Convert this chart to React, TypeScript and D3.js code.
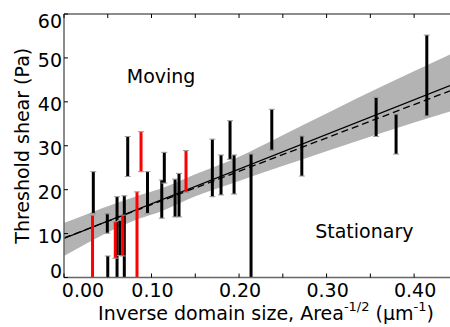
import React, { useEffect, useRef } from 'react';
import * as d3 from 'd3';

const width = 450;
const height = 327;
const margin = { top: 14, right: 0, bottom: 49.5, left: 64 };

// black error bars: x, upper end, lower end (Pa); negative lows run off the axis
const blackX = [0.0335, 0.0495, 0.05, 0.0606, 0.064, 0.0689, 0.0728, 0.0954, 0.1117, 0.1146, 0.1269, 0.1314, 0.1695, 0.1794, 0.1897, 0.1943, 0.2137, 0.2374, 0.2717, 0.3566, 0.3794, 0.4145];
const blackHi = [24.1, 14.5, 4.9, 18.4, 13.0, 18.6, 32.1, 24.1, 22.2, 28.5, 22.4, 23.7, 31.5, 27.9, 35.7, 27.9, 28.1, 38.3, 32.2, 41.0, 37.2, 55.2];
const blackLo = [14.6, 10.1, -3, -3, 5.0, -3, 23.0, 14.6, 13.5, 21.5, 13.8, 13.8, 18.4, 18.8, 26.9, 19.0, -3, 29.0, 23.1, 32.1, 28.1, 36.8];

// red error bars
const redX = [0.0326, 0.0586, 0.0671, 0.0834, 0.088, 0.1394];
const redHi = [14.2, 12.7, 14.2, 19.5, 33.2, 28.9];
const redLo = [-3, 4.4, 4.9, -3, 24.1, 19.4];

// confidence band
const bandX = [0.0, 0.087, 0.11, 0.15, 0.2, 0.247, 0.361, 0.441];
const bandLo = [4.9, 13.5, 15.0, 18.5, 22.0, 25.2, 32.8, 37.8];
const bandHi = [12.4, 18.8, 20.2, 23.5, 27.5, 32.1, 43.3, 50.8];

// fit lines
const fitX = [0, 0.441];
const solidY = [8.9, 43.7];
const dashedY = [9.0, 42.5];

const xTicks = [0, 0.05, 0.1, 0.15, 0.2, 0.25, 0.3, 0.35, 0.4];
const yTicks = [0, 10, 20, 30, 40, 50, 60];

const font = 'DejaVu Sans, sans-serif';

export default function App() {
  const ref = useRef<SVGSVGElement>(null);

  useEffect(() => {
    const svg = d3.select(ref.current);
    svg.selectAll('*').remove();

    const x = d3.scaleLinear().domain([0, 0.441]).range([margin.left, width - margin.right]);
    const y = d3.scaleLinear().domain([0, 60]).range([height - margin.bottom, margin.top]);

    svg
      .append('defs')
      .append('clipPath')
      .attr('id', 'plotclip')
      .append('rect')
      .attr('x', margin.left)
      .attr('y', margin.top)
      .attr('width', width - margin.left - margin.right)
      .attr('height', height - margin.top - margin.bottom);

    const plot = svg.append('g').attr('clip-path', 'url(#plotclip)');

    // band
    const band = bandX.map((d, i) => ({ x: d, lo: bandLo[i], hi: bandHi[i] }));
    const area = d3
      .area<{ x: number; lo: number; hi: number }>()
      .x(d => x(d.x))
      .y0(d => y(d.lo))
      .y1(d => y(d.hi))
      .curve(d3.curveMonotoneX);
    plot.append('path').datum(band).attr('d', area).attr('fill', '#b3b3b3');

    // fit lines
    const line = d3
      .line<number>()
      .x((d, i) => x(fitX[i]))
      .y(d => y(d));
    plot.append('path').datum(solidY).attr('d', line).attr('fill', 'none').attr('stroke', '#000').attr('stroke-width', 1.3);
    plot
      .append('path')
      .datum(dashedY)
      .attr('d', line)
      .attr('fill', 'none')
      .attr('stroke', '#000')
      .attr('stroke-width', 1.3)
      .attr('stroke-dasharray', '7,4');

    // error bars
    const drawBars = (xs: number[], his: number[], los: number[], color: string) => {
      xs.forEach((xv, i) => {
        const g = plot.append('g');
        g.append('line')
          .attr('x1', x(xv))
          .attr('x2', x(xv))
          .attr('y1', y(his[i]))
          .attr('y2', y(los[i]))
          .attr('stroke', color)
          .attr('stroke-width', 3);
        [his[i], los[i]].forEach(v => {
          g.append('line')
            .attr('x1', x(xv) - 3)
            .attr('x2', x(xv) + 3)
            .attr('y1', y(v))
            .attr('y2', y(v))
            .attr('stroke', '#999')
            .attr('stroke-width', 1);
        });
      });
    };
    drawBars(blackX, blackHi, blackLo, '#000');
    drawBars(redX, redHi, redLo, '#ff0000');

    // annotations
    svg
      .append('text')
      .attr('x', x(0.0717))
      .attr('y', y(44.3))
      .attr('font-family', font)
      .attr('font-size', 19)
      .text('Moving');
    svg
      .append('text')
      .attr('x', x(0.287))
      .attr('y', y(8.9))
      .attr('font-family', font)
      .attr('font-size', 19)
      .text('Stationary');

    // spines
    const spine = '#666';
    svg.append('line').attr('x1', margin.left).attr('x2', margin.left).attr('y1', y(0)).attr('y2', y(60)).attr('stroke', spine).attr('stroke-width', 1.5);
    svg.append('line').attr('x1', margin.left).attr('x2', width).attr('y1', y(60)).attr('y2', y(60)).attr('stroke', spine).attr('stroke-width', 1.5);
    svg.append('line').attr('x1', margin.left).attr('x2', width).attr('y1', y(0)).attr('y2', y(0)).attr('stroke', spine).attr('stroke-width', 1.5);

    // ticks
    xTicks.forEach(t => {
      svg.append('line').attr('x1', x(t)).attr('x2', x(t)).attr('y1', y(0)).attr('y2', y(0) - 4).attr('stroke', '#000');
      svg.append('line').attr('x1', x(t)).attr('x2', x(t)).attr('y1', y(60)).attr('y2', y(60) + 4).attr('stroke', '#000');
    });
    yTicks.forEach(t => {
      svg.append('line').attr('x1', margin.left).attr('x2', margin.left + 4).attr('y1', y(t)).attr('y2', y(t)).attr('stroke', '#000');
    });

    // tick labels
    svg
      .append('g')
      .selectAll('text')
      .data(xTicks.filter((d, i) => i % 2 === 0))
      .enter()
      .append('text')
      .attr('x', d => x(d) + (d === 0 ? 19 : 1))
      .attr('y', y(0) + 19)
      .attr('text-anchor', 'middle')
      .attr('font-family', font)
      .attr('font-size', 19)
      .text(d => d3.format('.2f')(d));

    svg
      .append('g')
      .selectAll('text')
      .data(yTicks)
      .enter()
      .append('text')
      .attr('x', margin.left - 2)
      .attr('y', d => y(d) + 9.5 + (d === 0 ? -9 : d === 60 ? 4.5 : 0))
      .attr('text-anchor', 'end')
      .attr('font-family', font)
      .attr('font-size', 19)
      .text(d => d);

    // axis titles
    const xl = svg
      .append('text')
      .attr('x', 266)
      .attr('y', 320)
      .attr('text-anchor', 'middle')
      .attr('font-family', font)
      .attr('font-size', 19);
    xl.append('tspan').text('Inverse domain size, Area');
    xl.append('tspan').attr('dy', -9).attr('font-size', 13).text('-1/2');
    xl.append('tspan').attr('dy', 9).text(' (µm');
    xl.append('tspan').attr('dy', -9).attr('font-size', 13).text('-1');
    xl.append('tspan').attr('dy', 9).text(')');

    svg
      .append('text')
      .attr('transform', `translate(29,${(y(0) + y(60)) / 2}) rotate(-90)`)
      .attr('text-anchor', 'middle')
      .attr('font-family', font)
      .attr('font-size', 19)
      .text('Threshold shear (Pa)');
  }, []);

  return (
    <svg
      ref={ref}
      width={width}
      height={height}
      style={{ position: 'absolute', left: 0, top: 0, background: '#fff' }}
    />
  );
}
